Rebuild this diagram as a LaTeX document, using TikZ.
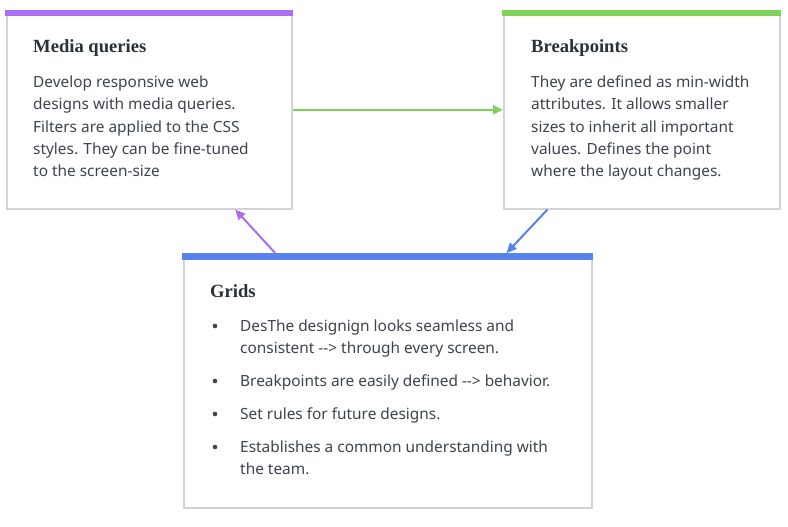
\documentclass[tikz,border=0pt]{standalone}
\usepackage{fontspec}
\setmainfont{Noto Sans}
\newfontfamily\headfont{Liberation Serif}
\usetikzlibrary{arrows.meta,calc}

\definecolor{framegray}{HTML}{D3D3D6}
\definecolor{barpurple}{HTML}{A86EF4}
\definecolor{bargreen}{HTML}{80D159}
\definecolor{barblue}{HTML}{5682EE}
\definecolor{headink}{HTML}{2B303A}
\definecolor{bodyink}{HTML}{3E4350}

\tikzset{
  card/.style={draw=framegray, line width=1.6pt, fill=white, anchor=north west,
    inner sep=0pt},
  cardtitle/.style={anchor=base west, inner sep=0pt, text=headink,
    font=\headfont\bfseries\fontsize{18.6pt}{22pt}\selectfont},
  cardtext/.style={anchor=base west, inner sep=0pt, text=bodyink,
    font=\fontsize{15.4pt}{22pt}\selectfont},
  dot/.style={circle, fill=bodyink, inner sep=0pt, minimum size=4.6pt},
  link/.style={line width=2pt, -{Triangle[length=10pt,width=9pt]}},
}

\begin{document}
\begin{tikzpicture}[x=1pt, y=-1pt]
  \useasboundingbox[fill=white] (0,0) rectangle (788,527);

  % the three cards
  \node[card, minimum width=285pt, minimum height=198pt] (mq) at (6,10) {};
  \node[card, minimum width=276pt, minimum height=198pt] (bp) at (503,10) {};
  \node[card, minimum width=408pt, minimum height=254pt] (gr) at (183,253) {};

  % coloured top bars
  \fill[barpurple] ([xshift=-0.8pt]mq.north west) rectangle ([xshift=0.8pt,yshift=-6.5pt]mq.north east);
  \fill[bargreen]  ([xshift=-0.8pt]bp.north west) rectangle ([xshift=0.8pt,yshift=-6.5pt]bp.north east);
  \fill[barblue]   ([xshift=-0.8pt]gr.north west) rectangle ([xshift=0.8pt,yshift=-6.5pt]gr.north east);

  % Media queries
  \node[cardtitle] (mqt) at (33,53) {Media queries};
  \foreach \i/\y/\t in {1/88/Develop responsive web,
                        2/110/designs with media queries.,
                        3/132/Filters are applied to the CSS,
                        4/154/styles. They can be fine-tuned,
                        5/176/to the screen-size}
    \node[cardtext] (mq-\i) at (33,\y) {\t};

  % Breakpoints
  \node[cardtitle] (bpt) at (531,53) {Breakpoints};
  \foreach \i/\y/\t in {1/88/They are defined as min-width,
                        2/110/attributes. It allows smaller,
                        3/132/sizes to inherit all important,
                        4/154/values. Defines the point,
                        5/176/where the layout changes.}
    \node[cardtext] (bp-\i) at (531,\y) {\t};

  % Grids
  \node[cardtitle] (grt) at (210,297) {Grids};
  \foreach \i/\y in {1/331,2/386,3/419,4/452}
    \node[dot] (gb-\i) at (215,\y-5) {};
  \foreach \i/\y/\t in {1/331/DesThe designign looks seamless and,
                        2/353/consistent -{}-> through every screen.,
                        3/386/Breakpoints are easily defined -{}-> behavior.,
                        4/419/Set rules for future designs.,
                        5/452/Establishes a common understanding with,
                        6/474/the team.}
    \node[cardtext] (gr-\i) at (240,\y) {\t};

  % connectors
  \draw[link, bargreen] (mq.east) -- (bp.west);
  \draw[link, barpurple] ($(gr.north west)!0.225!(gr.north east)$) -- ($(mq.south west)!0.80!(mq.south east)$);
  \draw[link, barblue] ($(bp.south west)!0.16!(bp.south east)$) -- ($(gr.north west)!0.79!(gr.north east)$);
\end{tikzpicture}
\end{document}
